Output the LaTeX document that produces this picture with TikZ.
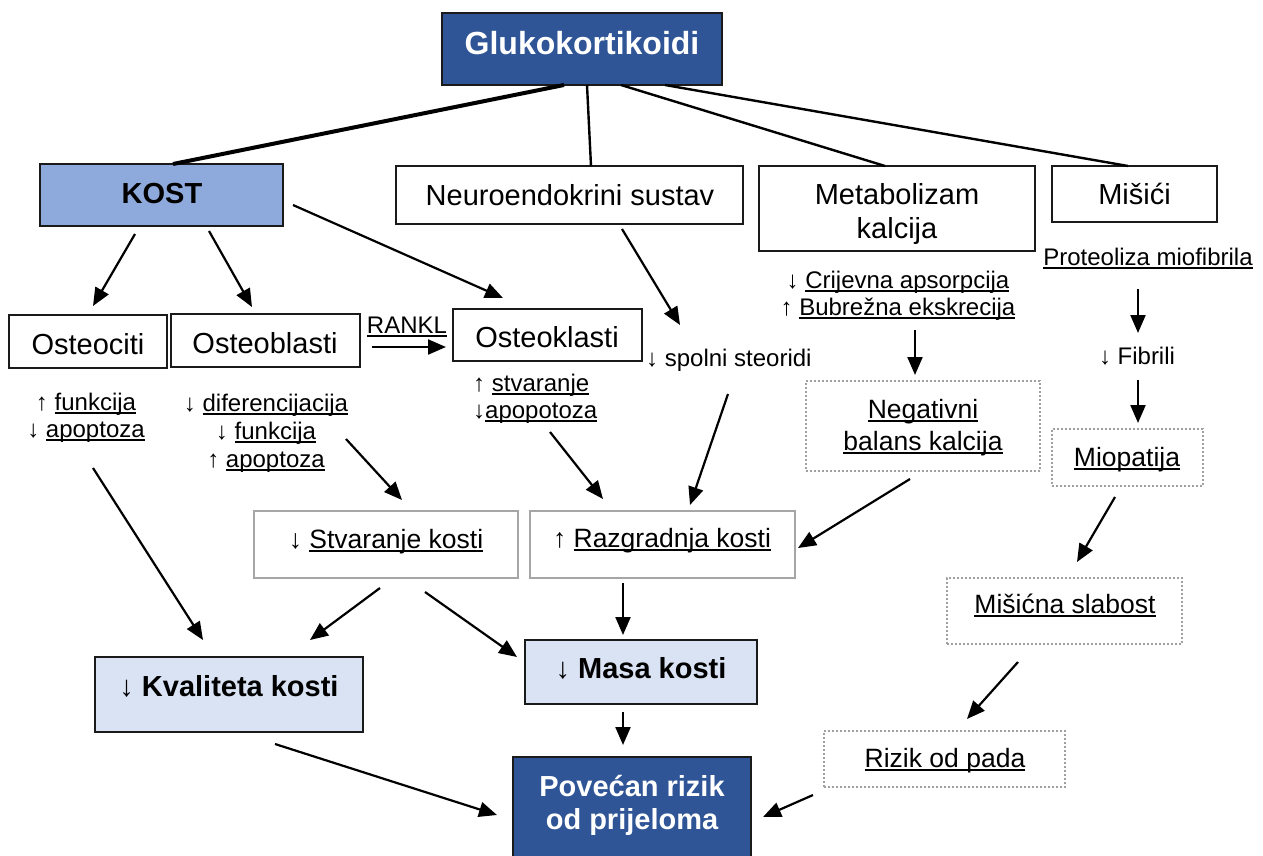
\documentclass[tikz,border=0pt]{standalone}
\usepackage{fontspec}
\setmainfont{Liberation Sans}
\usetikzlibrary{arrows.meta,fit}
\definecolor{darkblue}{RGB}{47,85,151}
\definecolor{kostblue}{RGB}{142,169,219}
\definecolor{lightblue}{RGB}{218,227,243}
\definecolor{boxline}{RGB}{26,26,26}
\definecolor{graybox}{RGB}{166,166,166}
\definecolor{dotgray}{RGB}{160,160,160}
\newsavebox\ulbx
\newcommand\ul[1]{\sbox\ulbx{#1}\rlap{\rule[-0.16em]{\wd\ulbx}{0.075em}}\usebox\ulbx}
\tikzset{
 bx/.style={draw=boxline, line width=2.4pt, inner sep=0pt},
 gbx/.style={draw=graybox, line width=2.4pt, inner sep=0pt},
 dbx/.style={draw=dotgray, line width=2.2pt, dash pattern=on 2pt off 2pt, inner sep=0pt},
 big/.style={font=\fontsize{29}{33}\selectfont},
 mid/.style={font=\fontsize{26.5}{30}\selectfont},
 sml/.style={font=\fontsize{24}{27.6}\selectfont},
 bld/.style={font=\fontsize{29}{33}\selectfont\bfseries},
 t/.style={anchor=base, inner sep=0pt},
 tw/.style={anchor=base west, inner sep=0pt},
 arr/.style={line width=2.2pt, -{Triangle[length=18pt,width=15pt]}},
 ln/.style={line width=2.4pt},
}
\begin{document}
\begin{tikzpicture}[x=1pt,y=-1pt]
\useasboundingbox (0,0) rectangle (1263,856);

% ---- boxes ----
\node[bx, fill=darkblue, fit={(442,13)(722,85)}] (G) {};
\node[bx, fill=kostblue, fit={(40,164)(283,226)}] (K) {};
\node[bx, fit={(396,166)(743,224)}] (NE) {};
\node[bx, fit={(759,166)(1035,251)}] (MK) {};
\node[bx, fit={(1052,166)(1217,222)}] (MI) {};
\node[bx, fit={(9,315)(167,368)}] (OC) {};
\node[bx, fit={(171,314)(360,367)}] (OB) {};
\node[bx, fit={(453,309)(642,361)}] (OK) {};
\node[dbx, fit={(806,381)(1040,471)}] (NB) {};
\node[dbx, fit={(1052,429)(1203,486)}] (MP) {};
\node[dbx, fit={(947,578)(1182,644)}] (MS) {};
\node[dbx, fit={(824,731)(1065,787)}] (RP) {};
\node[gbx, fit={(254,511)(518,578)}] (SK) {};
\node[gbx, fit={(530,511)(795,578)}] (RK) {};
\node[bx, fill=lightblue, fit={(95,657)(363,732)}] (KV) {};
\node[bx, fill=lightblue, fit={(525,640)(757,704)}] (MA) {};
\node[bx, fill=darkblue, fit={(513,757)(751,880)}] (PV) {};

% ---- texts ----
\node[t, font=\fontsize{32}{37}\selectfont\bfseries, text=white] (Gt) at (582,55) {Glukokortikoidi};
\node[t, bld] (Kt) at (162,203) {KOST};
\node[t, big] (NEt) at (570,205) {Neuroendokrini sustav};
\node[t, big] (MKt1) at (897,204) {Metabolizam};
\node[t, big] (MKt2) at (897,238) {kalcija};
\node[t, big] (MIt) at (1134.5,204) {Mišići};
\node[t, big] (OCt) at (88,354) {Osteociti};
\node[t, big] (OBt) at (265,353) {Osteoblasti};
\node[t, big] (OKt) at (547,347) {Osteoklasti};
\node[t, sml] (RA) at (407,333) {\ul{RANKL}};

\node[t, sml] (oc1) at (86,410) {↑ \ul{funkcija}};
\node[t, sml] (oc2) at (86,437) {↓ \ul{apoptoza}};
\node[t, sml] (ob1) at (266,411) {↓ \ul{diferencijacija}};
\node[t, sml] (ob2) at (266,439) {↓ \ul{funkcija}};
\node[t, sml] (ob3) at (266,467) {↑ \ul{apoptoza}};
\node[tw, sml] (ok1) at (473,391) {↑ \ul{stvaranje}};
\node[tw, sml] (ok2) at (473,418) {↓\ul{apopotoza}};
\node[tw, sml] (sp) at (646,366) {↓ spolni steoridi};
\node[t, sml] (cr1) at (898,288) {↓ \ul{Crijevna apsorpcija}};
\node[t, sml] (cr2) at (898,315) {↑ \ul{Bubrežna ekskrecija}};
\node[t, sml] (pr) at (1148,265) {\ul{Proteoliza miofibrila}};
\node[t, sml] (fb) at (1137,364) {↓ Fibrili};

\node[t, mid] (NBt1) at (923,418) {\ul{Negativni}};
\node[t, mid] (NBt2) at (923,450) {\ul{balans kalcija}};
\node[t, mid] (MPt) at (1127,466) {\ul{Miopatija}};
\node[t, mid] (MSt) at (1065,613) {\ul{Mišićna slabost}};
\node[t, mid] (RPt) at (945,767) {\ul{Rizik od pada}};
\node[t, mid] (SKt) at (386,548) {↓ \ul{Stvaranje kosti}};
\node[t, mid] (RKt) at (662,547) {↑ \ul{Razgradnja kosti}};
\node[t, bld] (KVt) at (229,696) {{\mdseries ↓} Kvaliteta kosti};
\node[t, bld] (MAt) at (641,678) {{\mdseries ↓} Masa kosti};
\node[t, bld, text=white] (PVt1) at (632,796) {Povećan rizik};
\node[t, bld, text=white] (PVt2) at (632,829) {od prijeloma};

% ---- connector end points ----
\coordinate (g1) at (564,85);  \coordinate (k1) at (173,164);
\coordinate (g2) at (587,85);  \coordinate (n1) at (591,166);
\coordinate (g3) at (621,85);  \coordinate (m1) at (885,166);
\coordinate (g4) at (665,85);  \coordinate (i1) at (1128,166);

\coordinate (a1s) at (135,234); \coordinate (a1e) at (93,306);
\coordinate (a2s) at (209,231); \coordinate (a2e) at (252,307);
\coordinate (a3s) at (293,205); \coordinate (a3e) at (503,298);
\coordinate (a4s) at (372,347); \coordinate (a4e) at (446,347);
\coordinate (a5s) at (622,229); \coordinate (a5e) at (680,325);
\coordinate (a6s) at (93,468);  \coordinate (a6e) at (203,640);
\coordinate (a7s) at (346,439); \coordinate (a7e) at (402,500);
\coordinate (a8s) at (550,432); \coordinate (a8e) at (603,499);
\coordinate (a9s) at (728,394); \coordinate (a9e) at (690,505);
\coordinate (a10s) at (915,330); \coordinate (a10e) at (915,375);
\coordinate (a11s) at (910,479); \coordinate (a11e) at (798,548);
\coordinate (a12s) at (1138,289); \coordinate (a12e) at (1138,333);
\coordinate (a13s) at (1138,380); \coordinate (a13e) at (1138,423);
\coordinate (a14s) at (1115,497); \coordinate (a14e) at (1077,562);
\coordinate (a15s) at (380,588); \coordinate (a15e) at (310,640);
\coordinate (a16s) at (425,592); \coordinate (a16e) at (517,657);
\coordinate (a17s) at (623,583); \coordinate (a17e) at (623,635);
\coordinate (a18s) at (623,712); \coordinate (a18e) at (623,745);
\coordinate (a19s) at (275,744); \coordinate (a19e) at (497,815);
\coordinate (a20s) at (1018,662); \coordinate (a20e) at (967,719);
\coordinate (a21s) at (813,795); \coordinate (a21e) at (763,817);

% ---- lines from Glukokortikoidi ----
\draw[line width=4pt] (g1) -- (k1);
\draw[ln] (g2) -- (n1);
\draw[ln] (g3) -- (m1);
\draw[ln] (g4) -- (i1);

% ---- arrows ----
\foreach \i in {1,...,21} {\draw[arr] (a\i s) -- (a\i e);}
\end{tikzpicture}
\end{document}
